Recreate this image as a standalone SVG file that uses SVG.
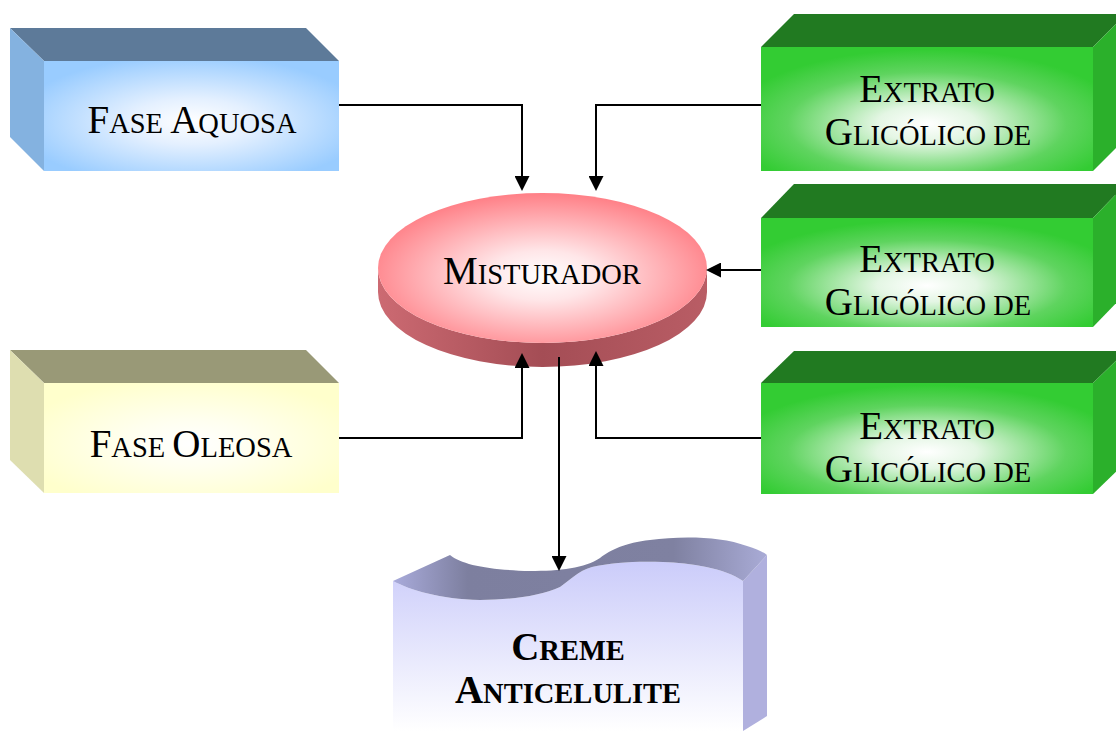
<svg xmlns="http://www.w3.org/2000/svg" width="1116" height="731" viewBox="0 0 1116 731">
<defs>
<style>
.lbl{font-family:"Liberation Serif","Times New Roman",serif;fill:#000;text-anchor:middle}
.big{font-size:39px}
.sm{font-size:28.5px}
.bold{font-weight:bold}
.conn{fill:none;stroke:#000;stroke-width:2}
</style>
<radialGradient id="gBlue" cx="0.5" cy="0.55" r="0.6">
<stop offset="0" stop-color="#ffffff"/>
<stop offset="0.35" stop-color="#e4f0ff"/>
<stop offset="1" stop-color="#99ccff"/>
</radialGradient>
<radialGradient id="gYel" cx="0.5" cy="0.55" r="0.6">
<stop offset="0" stop-color="#ffffff"/>
<stop offset="0.35" stop-color="#fffff0"/>
<stop offset="1" stop-color="#ffffcc"/>
</radialGradient>
<radialGradient id="gGreen" cx="0.5" cy="0.62" r="0.6">
<stop offset="0" stop-color="#ffffff"/>
<stop offset="0.25" stop-color="#e4f6e4"/>
<stop offset="0.7" stop-color="#5fd45f"/>
<stop offset="1" stop-color="#33cc33"/>
</radialGradient>
<radialGradient id="gRed" cx="0.5" cy="0.55" r="0.55">
<stop offset="0" stop-color="#ffffff"/>
<stop offset="0.3" stop-color="#ffe6e8"/>
<stop offset="1" stop-color="#ff7f86"/>
</radialGradient>
<linearGradient id="gRedSide" x1="0" y1="0" x2="1" y2="0">
<stop offset="0" stop-color="#cc6a72"/>
<stop offset="0.5" stop-color="#a44d55"/>
<stop offset="1" stop-color="#b95d65"/>
</linearGradient>
<linearGradient id="gCremeFront" x1="0" y1="0" x2="0" y2="1">
<stop offset="0" stop-color="#cbccfa"/>
<stop offset="1" stop-color="#ffffff"/>
</linearGradient>
<linearGradient id="gCremeTop" x1="0" y1="0" x2="1" y2="0">
<stop offset="0" stop-color="#a9abdb"/>
<stop offset="0.2" stop-color="#7d7f9f"/>
<stop offset="0.75" stop-color="#7f81a1"/>
<stop offset="1" stop-color="#a9abd6"/>
</linearGradient>
<marker id="arr" markerUnits="userSpaceOnUse" markerWidth="15" markerHeight="15" refX="3" refY="7.5" orient="auto">
<path d="M0,0 L15,7.5 L0,15 Z" fill="#000"/>
</marker>
</defs>
<rect width="1116" height="731" fill="#ffffff"/>

<g id="fase-aquosa">
<polygon points="10,28 306,28 339,61 44,61" fill="#5d7a99"/>
<polygon points="10,28 44,61 44,171 10,137" fill="#84b2e0"/>
<rect x="44" y="61" width="295" height="110" fill="url(#gBlue)"/>
<text class="lbl" x="192" y="133"><tspan class="big">F</tspan><tspan class="sm">ASE </tspan><tspan class="big">A</tspan><tspan class="sm">QUOSA</tspan></text>
</g>

<g id="fase-oleosa">
<polygon points="10,350 306,350 339,383 44,383" fill="#999977"/>
<polygon points="10,350 44,383 44,493 10,460" fill="#dedeb0"/>
<rect x="44" y="383" width="295" height="110" fill="url(#gYel)"/>
<text class="lbl" x="191" y="457"><tspan class="big">F</tspan><tspan class="sm">ASE </tspan><tspan class="big">O</tspan><tspan class="sm">LEOSA</tspan></text>
</g>

<g id="extrato-1">
<polygon points="761,47 794,14 1126,14 1093,47" fill="#217a21"/>
<polygon points="1093,47 1126,14 1126,138 1093,171" fill="#2bb02b"/>
<rect x="761" y="47" width="332" height="124" fill="url(#gGreen)"/>
<text class="lbl" x="927" y="102"><tspan class="big">E</tspan><tspan class="sm">XTRATO</tspan></text>
<text class="lbl" x="928" y="145"><tspan class="big">G</tspan><tspan class="sm">LICÓLICO DE</tspan></text>
</g>

<g id="extrato-2">
<polygon points="761,218 794,184 1126,184 1093,218" fill="#217a21"/>
<polygon points="1093,218 1126,184 1126,293 1093,327" fill="#2bb02b"/>
<rect x="761" y="218" width="332" height="109" fill="url(#gGreen)"/>
<text class="lbl" x="927" y="272"><tspan class="big">E</tspan><tspan class="sm">XTRATO</tspan></text>
<text class="lbl" x="928" y="315"><tspan class="big">G</tspan><tspan class="sm">LICÓLICO DE</tspan></text>
</g>

<g id="extrato-3">
<polygon points="761,383 794,351 1126,351 1093,383" fill="#217a21"/>
<polygon points="1093,383 1126,351 1126,462 1093,494" fill="#2bb02b"/>
<rect x="761" y="383" width="332" height="111" fill="url(#gGreen)"/>
<text class="lbl" x="927" y="439"><tspan class="big">E</tspan><tspan class="sm">XTRATO</tspan></text>
<text class="lbl" x="928" y="482"><tspan class="big">G</tspan><tspan class="sm">LICÓLICO DE</tspan></text>
</g>

<g id="misturador">
<path d="M378,268 A164.5,75 0 0 0 707,268 L707,292 A164.5,75 0 0 1 378,292 Z" fill="url(#gRedSide)"/>
<ellipse cx="542.5" cy="268" rx="164.5" ry="75" fill="url(#gRed)"/>
<text class="lbl" x="542" y="284"><tspan class="big">M</tspan><tspan class="sm">ISTURADOR</tspan></text>
</g>

<g id="creme-anticelulite">
<path d="M743,581 L767,555 L767,716 L743,731 Z" fill="#b0b0de"/>
<path d="M393,581 C410,590 440,599 480,600 C510,600 540,596 560,587 C570,580 578,571 592,567 C612,562 640,561 663,562 C690,563 725,568 743,581 L743,731 L393,731 Z" fill="url(#gCremeFront)"/>
<path d="M393,581 L450,555 C462,565 490,570 530,571 C560,571 585,568 600,558 C612,549 625,543 650,540 C680,536 720,536 747,546 C757,549 763,552 767,555 L743,581 C725,568 690,563 663,562 C640,561 612,562 592,567 C578,571 570,580 560,587 C540,596 510,600 480,600 C440,599 410,590 393,581 Z" fill="url(#gCremeTop)"/>
<text class="lbl bold" x="568" y="660"><tspan class="big">C</tspan><tspan class="sm">REME</tspan></text>
<text class="lbl bold" x="568" y="703"><tspan class="big">A</tspan><tspan class="sm">NTICELULITE</tspan></text>
</g>

<g id="connectors">
<path class="conn" d="M339,105 H522 V179" marker-end="url(#arr)"/>
<path class="conn" d="M761,105 H596 V179" marker-end="url(#arr)"/>
<path class="conn" d="M761,270 H718" marker-end="url(#arr)"/>
<path class="conn" d="M339,438 H522 V365" marker-end="url(#arr)"/>
<path class="conn" d="M761,438 H596 V363" marker-end="url(#arr)"/>
<path class="conn" d="M559,357 V559" marker-end="url(#arr)"/>
</g>
</svg>
